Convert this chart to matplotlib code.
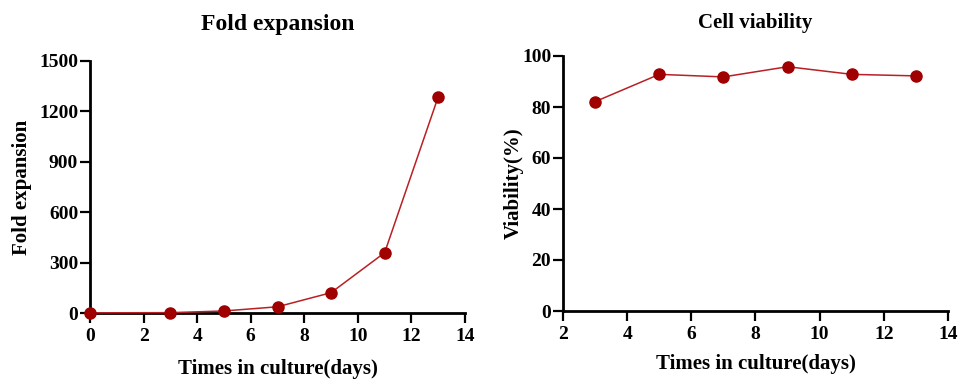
import numpy as np
import matplotlib
matplotlib.use('Agg')
import matplotlib.pyplot as plt

# 数据
days_fold = [0, 3, 5, 7, 9, 11, 13]
fold_values = [1, 2, 12, 37, 121, 359, 1287]

days_via = [3, 5, 7, 9, 11, 13]
via_values = [82.1, 92.8, 91.8, 95.8, 92.8, 92.2]

fold_yticks = [0, 300, 600, 900, 1200, 1500]
fold_xticks = [0, 2, 4, 6, 8, 10, 12, 14]
via_yticks = [0, 20, 40, 60, 80, 100]
via_xticks = [2, 4, 6, 8, 10, 12, 14]

plt.rcParams['font.family'] = ['Liberation Serif', 'DejaVu Serif']
plt.rcParams['font.weight'] = 'bold'

line_color = '#b82025'
marker_color = '#a00000'

fig = plt.figure(figsize=(9.62, 3.81), dpi=100)
fig.patch.set_facecolor('white')

W, H = 962, 381
# 坐标区位置 (像素)
ax1 = fig.add_axes([90 / W, 1 - 313 / H, (465 - 90) / W, (313 - 61) / H])
ax2 = fig.add_axes([563 / W, 1 - 311 / H, (948 - 563) / W, (311 - 56) / H])


def style_axes(ax):
    for s in ['top', 'right']:
        ax.spines[s].set_visible(False)
    for s in ['left', 'bottom']:
        ax.spines[s].set_linewidth(2)
    ax.tick_params(direction='out', length=7, width=1.6, labelsize=14)
    ax.tick_params(axis='x', pad=4)
    ax.tick_params(axis='y', pad=1.5)
    for lab in ax.get_xticklabels() + ax.get_yticklabels():
        lab.set_fontweight('bold')


ax1.plot(days_fold, fold_values, color=line_color, linewidth=1.1,
         marker='o', markersize=8, markerfacecolor=marker_color,
         markeredgecolor=marker_color, clip_on=False, zorder=3)
ax1.set_xlim(0, 14)
ax1.set_ylim(0, 1500)
ax1.set_xticks(fold_xticks)
ax1.set_yticks(fold_yticks)
ax1.set_xlabel('Times in culture(days)', fontsize=15, fontweight='bold', labelpad=10)
ax1.set_ylabel('Fold expansion', fontsize=15, fontweight='bold', labelpad=5)
ax1.set_title('Fold expansion', fontsize=17, fontweight='bold', pad=22)
style_axes(ax1)

ax2.plot(days_via, via_values, color=line_color, linewidth=1.1,
         marker='o', markersize=8, markerfacecolor=marker_color,
         markeredgecolor=marker_color, clip_on=False, zorder=3)
ax2.set_xlim(2, 14)
ax2.set_ylim(0, 100)
ax2.set_xticks(via_xticks)
ax2.set_yticks(via_yticks)
ax2.set_xlabel('Times in culture(days)', fontsize=15, fontweight='bold', labelpad=8)
ax2.set_ylabel('Viability(%)', fontsize=15, fontweight='bold', labelpad=-1)
ax2.set_title('Cell viability', fontsize=15, fontweight='bold', pad=20)
style_axes(ax2)

fig.savefig('out.png', dpi=100, facecolor=fig.get_facecolor())
